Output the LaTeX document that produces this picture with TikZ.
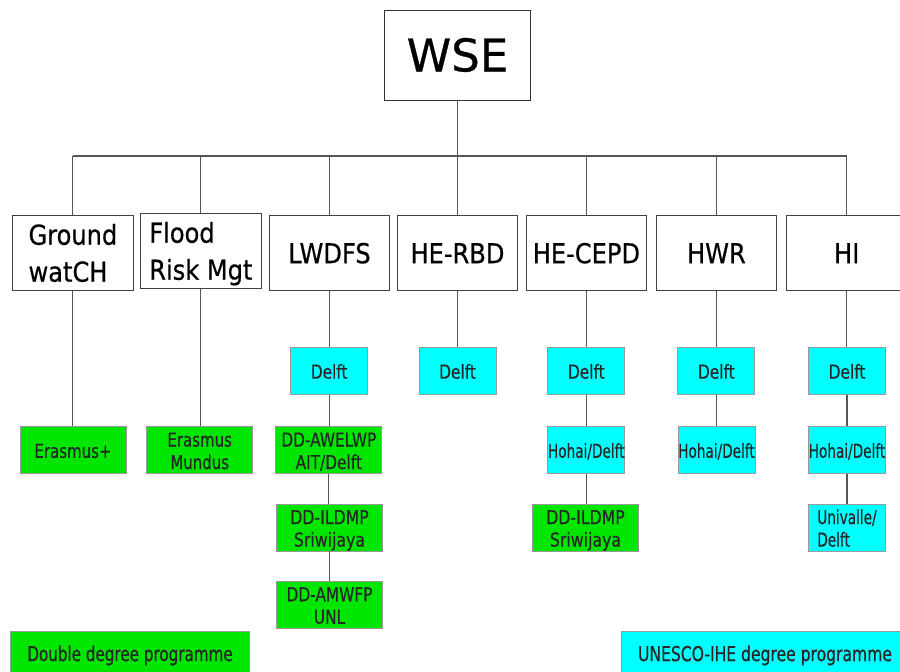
\documentclass[tikz,border=0pt]{standalone}
\usepackage{fontspec}
\setmainfont{DejaVu Sans}[FakeBold=0.6]
\usepackage{graphicx}
\usepackage{tikz}
\definecolor{ddgreen}{RGB}{0,230,0}
\definecolor{iheblue}{RGB}{0,255,255}
\definecolor{linegray}{RGB}{85,85,85}
\newcommand{\narrowtxt}[3]{\raisebox{-3.3pt}[\height][\depth]{\scalebox{#1}[1]{\begin{tabular}{@{}#2@{}}#3\end{tabular}}}}

\begin{document}
\begin{tikzpicture}[x=1pt, y=-1pt,
    topbox/.style={draw=black!80, line width=1pt, fill=white, inner sep=0pt,
        minimum width=146pt, minimum height=90pt, font=\fontsize{45}{54}\selectfont},
    track/.style={draw=black!75, line width=1pt, fill=white, inner sep=0pt,
        minimum width=120.6pt, minimum height=75pt, font=\fontsize{27.4}{37}\selectfont},
    ihe/.style={draw=gray!80, line width=0.8pt, fill=iheblue, inner sep=0pt,
        minimum width=77pt, minimum height=47pt, text=black!85, font=\fontsize{19.2}{22.5}\selectfont},
    dd/.style={draw=gray!80, line width=0.8pt, fill=ddgreen, inner sep=0pt,
        minimum width=106pt, minimum height=47pt, text=black!85, font=\fontsize{19.2}{22.5}\selectfont},
    key/.style={minimum height=44pt, font=\fontsize{20.5}{24}\selectfont},
    link/.style={draw=linegray, line width=1.1pt}]
    \useasboundingbox (0,0) rectangle (900,672);

    % Top of the tree
    \node[topbox] (wse) at (457.5,55) {WSE};
    \coordinate (bus) at (457.5,156);

    % Specialisations
    \node[track] (gw) at (72.9,252.5) {\narrowtxt{0.88}{l}{Ground\\watCH}};
    \node[track] (fr) at (200.9,250.5) {\narrowtxt{0.88}{l}{Flood\\Risk Mgt}};
    \node[track] (lw) at (329.5,252.5) {\narrowtxt{0.88}{c}{LWDFS}};
    \node[track] (rbd) at (457.5,252.5) {\narrowtxt{0.88}{c}{HE-RBD}};
    \node[track] (cepd) at (586.4,252.5) {\narrowtxt{0.88}{c}{HE-CEPD}};
    \node[track] (hwr) at (716.4,252.5) {\narrowtxt{0.88}{c}{HWR}};
    \node[track] (hi) at (846.7,252.5) {\narrowtxt{0.88}{c}{HI}};

    % Delft row
    \node[ihe] (lwd) at (329.2,370.8) {\narrowtxt{0.8}{c}{Delft}};
    \node[ihe] (rbdd) at (457.5,370.8) {\narrowtxt{0.8}{c}{Delft}};
    \node[ihe] (cepdd) at (586.3,370.8) {\narrowtxt{0.8}{c}{Delft}};
    \node[ihe] (hwrd) at (716.3,370.8) {\narrowtxt{0.8}{c}{Delft}};
    \node[ihe] (hid) at (847,370.8) {\narrowtxt{0.8}{c}{Delft}};

    % Partner programmes
    \node[dd] (erp) at (73,450) {\narrowtxt{0.78}{c}{Erasmus+}};
    \node[dd] (erm) at (199.7,450) {\narrowtxt{0.78}{c}{Erasmus\\Mundus}};
    \node[dd] (awelwp) at (328.8,450) {\narrowtxt{0.8}{c}{DD-AWELWP\\AIT/Delft}};
    \node[dd] (ildmp) at (329.5,527.5) {\narrowtxt{0.82}{c}{DD-ILDMP\\Sriwijaya}};
    \node[dd] (amwfp) at (329.5,604.7) {\narrowtxt{0.8}{c}{DD-AMWFP\\UNL}};
    \node[ihe] (cepdh) at (586.3,450) {\narrowtxt{0.71}{c}{Hohai/Delft}};
    \node[dd] (ildmpb) at (585.5,527.5) {\narrowtxt{0.82}{c}{DD-ILDMP\\Sriwijaya}};
    \node[ihe] (hwrh) at (716.5,450) {\narrowtxt{0.71}{c}{Hohai/Delft}};
    \node[ihe] (hih) at (847,450) {\narrowtxt{0.71}{c}{Hohai/Delft}};
    \node[ihe] (univ) at (847,527.5) {\narrowtxt{0.71}{l}{Univalle/\\Delft}};

    % Legend
    \node[dd, key, minimum width=238.6pt] (ddkey) at (130,653) {\narrowtxt{0.74}{c}{Double degree programme}};
    \node[ihe, key, minimum width=288pt] (ihekey) at (765,653) {\narrowtxt{0.76}{c}{UNESCO-IHE degree programme}};

    % Connectors
    \draw[link] (wse) -- (bus);
    \draw[link] (gw.north |- bus) -- (hi.north |- bus);
    \foreach \n in {gw,fr,lw,rbd,cepd,hwr,hi}
        \draw[link] (\n.north |- bus) -- (\n.north);
    \foreach \a/\b in {gw/erp, fr/erm, lw/lwd, lwd/awelwp, awelwp/ildmp, ildmp/amwfp,
        rbd/rbdd, cepd/cepdd, cepdd/cepdh, cepdh/ildmpb, hwr/hwrd, hwrd/hwrh,
        hi/hid, hid/hih, hih/univ}
        \draw[link] (\a.south) -- (\a.south |- \b.north);
\end{tikzpicture}
\end{document}
